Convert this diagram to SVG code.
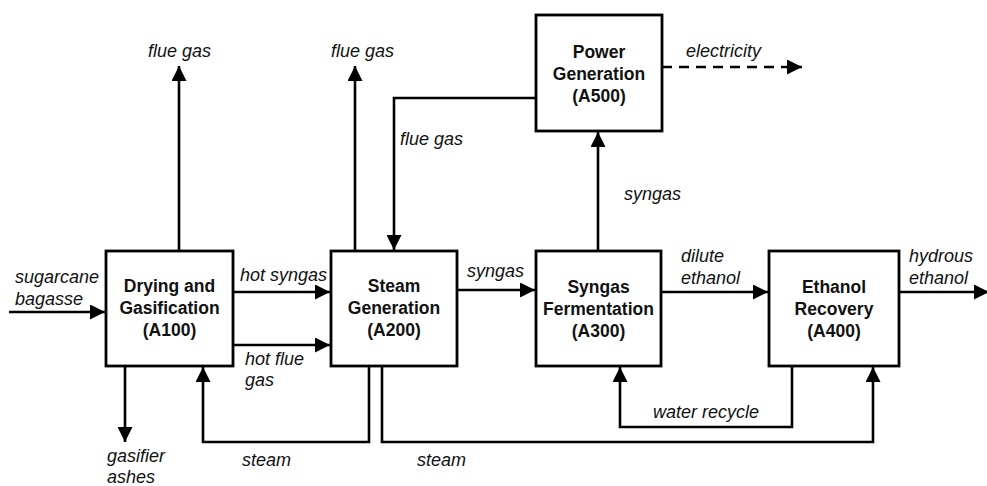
<svg xmlns="http://www.w3.org/2000/svg" width="987" height="486" viewBox="0 0 987 486">
<style>
.box{fill:#fff;stroke:#000;stroke-width:2.8}
.bt{font-family:"Liberation Sans",Arial,sans-serif;font-weight:bold;font-size:17.5px;text-anchor:middle;fill:#111}
.lb{font-family:"Liberation Sans",Arial,sans-serif;font-style:italic;font-size:18px;fill:#111}
.ln{fill:none;stroke:#000;stroke-width:2.6}
.dash{stroke-dasharray:10,7}
</style>
<defs>
<marker id="ah" markerUnits="userSpaceOnUse" markerWidth="15" markerHeight="15" refX="14" refY="7" orient="auto" viewBox="0 0 14 14">
<path d="M0,0 L14,7 L0,14 z" fill="#000"/>
</marker>
</defs>
<rect width="987" height="486" fill="#fff"/>
<g id="connectors">
<path class="ln" d="M179,251 V66" marker-end="url(#ah)"/>
<path class="ln" d="M355,251 V66" marker-end="url(#ah)"/>
<path class="ln" d="M536,98 H394 V250" marker-end="url(#ah)"/>
<path class="ln dash" d="M662,67 H802" marker-end="url(#ah)"/>
<path class="ln" d="M598,251 V132" marker-end="url(#ah)"/>
<path class="ln" d="M9,312 H105" marker-end="url(#ah)"/>
<path class="ln" d="M233,292 H330" marker-end="url(#ah)"/>
<path class="ln" d="M233,345 H330" marker-end="url(#ah)"/>
<path class="ln" d="M125,366 V442" marker-end="url(#ah)"/>
<path class="ln" d="M369,366 V442 H203 V367" marker-end="url(#ah)"/>
<path class="ln" d="M382,366 V442 H873 V367" marker-end="url(#ah)"/>
<path class="ln" d="M457,290 H535" marker-end="url(#ah)"/>
<path class="ln" d="M661,292 H768" marker-end="url(#ah)"/>
<path class="ln" d="M899,292 H989" marker-end="url(#ah)"/>
<path class="ln" d="M792,366 V427 H620 V367" marker-end="url(#ah)"/>
<text class="lb" x="148" y="57">flue gas</text>
<text class="lb" x="331" y="57">flue gas</text>
<text class="lb" x="400" y="145">flue gas</text>
<text class="lb" x="686" y="57">electricity</text>
<text class="lb" x="624" y="200">syngas</text>
<text class="lb" x="15" y="283">sugarcane</text>
<text class="lb" x="15" y="305">bagasse</text>
<text class="lb" x="240" y="281">hot syngas</text>
<text class="lb" x="245" y="365">hot flue</text>
<text class="lb" x="245" y="386">gas</text>
<text class="lb" x="107" y="462">gasifier</text>
<text class="lb" x="107" y="483">ashes</text>
<text class="lb" x="242" y="466">steam</text>
<text class="lb" x="417" y="466">steam</text>
<text class="lb" x="467" y="277">syngas</text>
<text class="lb" x="681" y="262">dilute</text>
<text class="lb" x="681" y="284">ethanol</text>
<text class="lb" x="909" y="262">hydrous</text>
<text class="lb" x="909" y="284">ethanol</text>
<text class="lb" x="653" y="418">water recycle</text>
</g>
<g id="A100">
<rect class="box" x="106" y="251" width="127" height="115"/>
<text class="bt" x="169.5" y="292">Drying and</text>
<text class="bt" x="169.5" y="314">Gasification</text>
<text class="bt" x="169.5" y="336">(A100)</text>
</g>
<g id="A200">
<rect class="box" x="331" y="251" width="126" height="115"/>
<text class="bt" x="394" y="292">Steam</text>
<text class="bt" x="394" y="314">Generation</text>
<text class="bt" x="394" y="336">(A200)</text>
</g>
<g id="A300">
<rect class="box" x="536" y="251" width="125" height="115"/>
<text class="bt" x="598.5" y="293">Syngas</text>
<text class="bt" x="598.5" y="315">Fermentation</text>
<text class="bt" x="598.5" y="337">(A300)</text>
</g>
<g id="A400">
<rect class="box" x="769" y="251" width="130" height="115"/>
<text class="bt" x="834" y="293">Ethanol</text>
<text class="bt" x="834" y="315">Recovery</text>
<text class="bt" x="834" y="337">(A400)</text>
</g>
<g id="A500">
<rect class="box" x="536" y="15" width="126" height="116"/>
<text class="bt" x="599" y="58">Power</text>
<text class="bt" x="599" y="80">Generation</text>
<text class="bt" x="599" y="102">(A500)</text>
</g>
</svg>
